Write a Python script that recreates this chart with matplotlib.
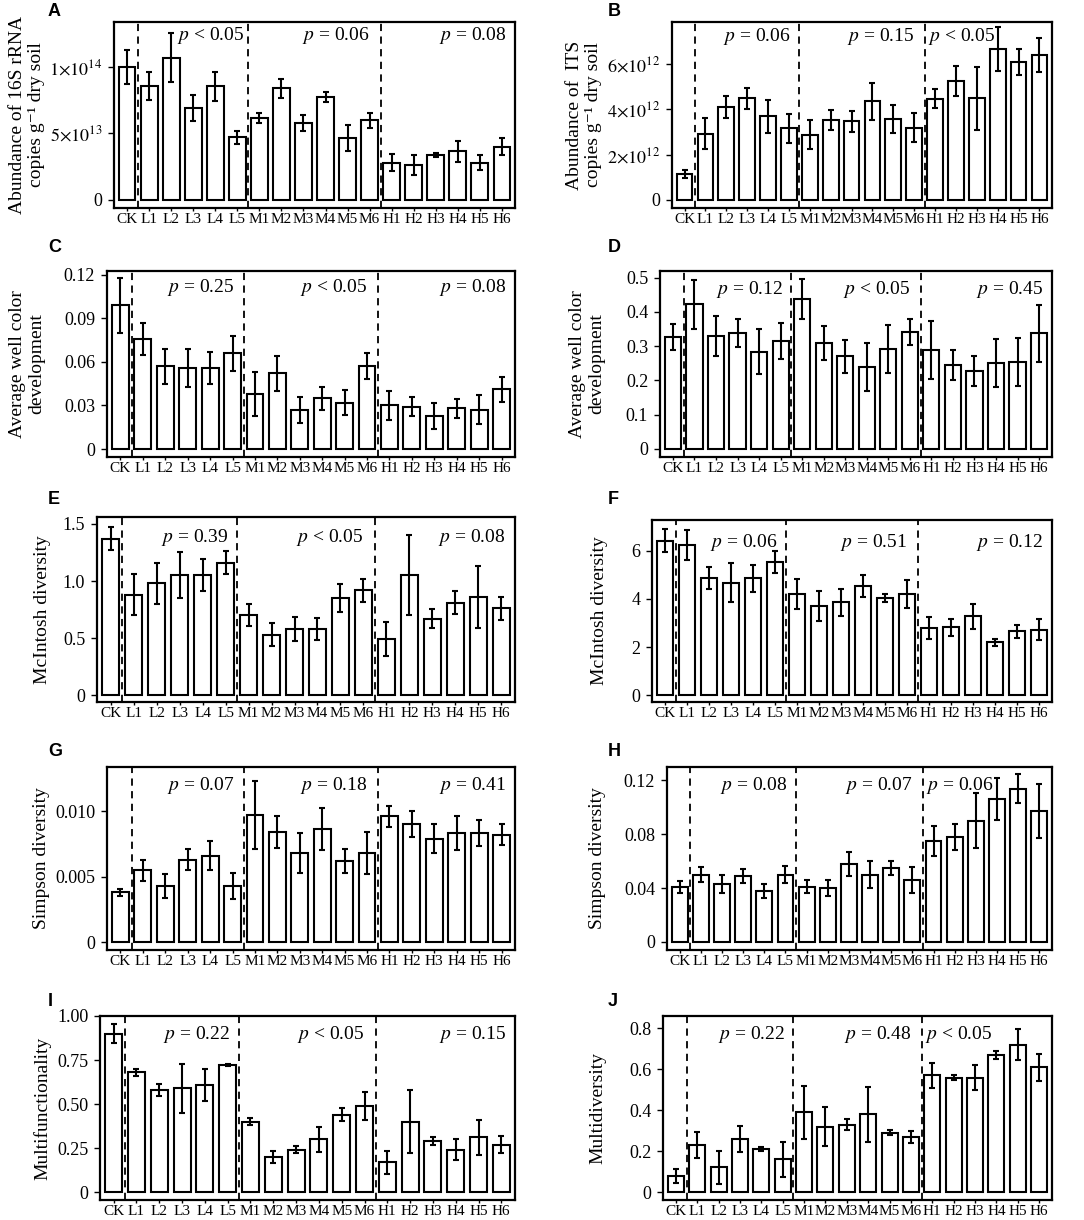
import matplotlib.pyplot as plt
import numpy as np

plt.rcParams['font.family'] = ['Liberation Serif', 'DejaVu Serif']
plt.rcParams['mathtext.fontset'] = 'stix'

groups = ["CK", "L1", "L2", "L3", "L4", "L5", "M1", "M2", "M3", "M4", "M5", "M6",
          "H1", "H2", "H3", "H4", "H5", "H6"]

# A: 16S rRNA (x1e13)
a_mean = np.array([10.0, 8.6, 10.7, 6.9, 8.55, 4.7, 6.15, 8.4, 5.8, 7.75, 4.65, 6.0,
                   2.8, 2.6, 3.4, 3.65, 2.8, 4.0]) * 1e13
a_err = np.array([1.3, 1.05, 1.85, 1.0, 1.1, 0.47, 0.38, 0.7, 0.6, 0.37, 0.97, 0.57,
                  0.67, 0.77, 0.15, 0.78, 0.54, 0.64]) * 1e13
# B: ITS (x1e12)
b_mean = np.array([1.15, 2.92, 4.1, 4.5, 3.7, 3.16, 2.89, 3.53, 3.48, 4.37, 3.56, 3.19,
                   4.47, 5.26, 4.5, 6.67, 6.1, 6.41]) * 1e12
b_err = np.array([0.17, 0.68, 0.48, 0.47, 0.74, 0.65, 0.63, 0.46, 0.47, 0.82, 0.62, 0.64,
                  0.42, 0.67, 1.4, 0.98, 0.58, 0.74]) * 1e12
# C: AWCD bacteria
c_mean = [0.099, 0.076, 0.057, 0.056, 0.056, 0.066, 0.038, 0.052, 0.027, 0.035, 0.032, 0.057,
          0.030, 0.029, 0.023, 0.028, 0.027, 0.041]
c_err = [0.019, 0.011, 0.012, 0.013, 0.011, 0.012, 0.015, 0.012, 0.009, 0.008, 0.0085, 0.009,
         0.010, 0.0065, 0.009, 0.0065, 0.010, 0.0085]
# D: AWCD fungi
d_mean = [0.325, 0.422, 0.33, 0.337, 0.283, 0.315, 0.437, 0.308, 0.27, 0.24, 0.291, 0.342,
          0.289, 0.245, 0.227, 0.25, 0.253, 0.337]
d_err = [0.038, 0.072, 0.058, 0.041, 0.066, 0.052, 0.058, 0.05, 0.048, 0.07, 0.07, 0.038,
         0.084, 0.044, 0.045, 0.07, 0.07, 0.084]
# E: McIntosh
e_mean = [1.37, 0.88, 0.98, 1.05, 1.05, 1.16, 0.70, 0.53, 0.58, 0.58, 0.85, 0.92,
          0.49, 1.05, 0.67, 0.81, 0.86, 0.76]
e_err = [0.10, 0.18, 0.18, 0.20, 0.14, 0.10, 0.095, 0.10, 0.105, 0.10, 0.12, 0.10,
         0.15, 0.35, 0.085, 0.10, 0.27, 0.10]
# F: McIntosh
f_mean = [6.42, 6.22, 4.87, 4.68, 4.85, 5.52, 4.2, 3.7, 3.86, 4.53, 4.04, 4.2,
          2.8, 2.83, 3.28, 2.2, 2.66, 2.73]
f_err = [0.47, 0.62, 0.45, 0.8, 0.55, 0.45, 0.62, 0.62, 0.55, 0.45, 0.17, 0.57,
         0.45, 0.35, 0.52, 0.15, 0.26, 0.42]
# G: Simpson
g_mean = [0.0038, 0.0055, 0.0043, 0.0063, 0.0066, 0.0043, 0.0097, 0.0084, 0.0068, 0.0086, 0.0062, 0.0068,
          0.0096, 0.0090, 0.0079, 0.0083, 0.0083, 0.0082]
g_err = [0.00025, 0.0008, 0.0009, 0.0008, 0.0011, 0.0010, 0.0026, 0.0012, 0.0015, 0.0016, 0.0009, 0.0016,
         0.0008, 0.0010, 0.0011, 0.0013, 0.0010, 0.0008]
# H: Simpson
h_mean = [0.041, 0.050, 0.043, 0.049, 0.038, 0.050, 0.041, 0.040, 0.058, 0.050, 0.055, 0.046,
          0.075, 0.078, 0.090, 0.106, 0.114, 0.097]
h_err = [0.0045, 0.0055, 0.007, 0.005, 0.005, 0.0065, 0.005, 0.006, 0.009, 0.010, 0.0055, 0.0095,
         0.0115, 0.0095, 0.0205, 0.0155, 0.0105, 0.020]
# I: Multifunctionality
i_mean = [0.90, 0.68, 0.58, 0.59, 0.61, 0.72, 0.40, 0.20, 0.24, 0.30, 0.44, 0.49,
          0.17, 0.40, 0.29, 0.24, 0.31, 0.27]
i_err = [0.055, 0.02, 0.035, 0.14, 0.09, 0.005, 0.02, 0.035, 0.02, 0.07, 0.035, 0.08,
         0.065, 0.18, 0.02, 0.06, 0.10, 0.05]
# J: Multidiversity
j_mean = [0.08, 0.23, 0.12, 0.26, 0.21, 0.16, 0.39, 0.32, 0.33, 0.38, 0.29, 0.27,
          0.57, 0.56, 0.56, 0.67, 0.72, 0.61]
j_err = [0.035, 0.065, 0.08, 0.065, 0.01, 0.085, 0.13, 0.095, 0.025, 0.135, 0.012, 0.03,
         0.06, 0.01, 0.06, 0.02, 0.075, 0.065]

a_p = ["< 0.05", "= 0.06", "= 0.08"]
b_p = ["= 0.06", "= 0.15", "< 0.05"]
c_p = ["= 0.25", "< 0.05", "= 0.08"]
d_p = ["= 0.12", "< 0.05", "= 0.45"]
e_p = ["= 0.39", "< 0.05", "= 0.08"]
f_p = ["= 0.06", "= 0.51", "= 0.12"]
g_p = ["= 0.07", "= 0.18", "= 0.41"]
h_p = ["= 0.08", "= 0.07", "= 0.06"]
i_p = ["= 0.22", "< 0.05", "= 0.15"]
j_p = ["= 0.22", "= 0.48", "< 0.05"]

ylab_16s = "Abundance of 16S rRNA\ncopies g\u207b\u00b9 dry soil"
ylab_its = "Abundance of  ITS\ncopies g\u207b\u00b9 dry soil"
ylab_awcd = "Average well color\ndevelopment"

# letter, mean, err, p labels, ylabel, ylim, yticks, yticklabels,
# box (l, t, r, b px), ylabel centre x px, p text height, third p left?
panels = [
    ("A", a_mean, a_err, a_p, ylab_16s, (-0.63e13, 13.4e13), [0, 5e13, 1e14],
     ["0", r"$5{\times}10^{13}$", r"$1{\times}10^{14}$"], (114, 22, 515, 208), 27, 0.93, False),
    ("B", b_mean, b_err, b_p, ylab_its, (-0.37e12, 7.88e12), [0, 2e12, 4e12, 6e12],
     ["0", r"$2{\times}10^{12}$", r"$4{\times}10^{12}$", r"$6{\times}10^{12}$"],
     (672, 22, 1052, 208), 584, 0.92, True),
    ("C", c_mean, c_err, c_p, ylab_awcd, (-0.0055, 0.1225), [0, 0.03, 0.06, 0.09, 0.12],
     ["0", "0.03", "0.06", "0.09", "0.12"], (107, 271, 515, 457), 27, 0.91, False),
    ("D", d_mean, d_err, d_p, ylab_awcd, (-0.024, 0.519), [0, 0.1, 0.2, 0.3, 0.4, 0.5],
     ["0", "0.1", "0.2", "0.3", "0.4", "0.5"], (660, 271, 1052, 457), 587, 0.90, False),
    ("E", e_mean, e_err, e_p, "McIntosh diversity", (-0.058, 1.56), [0, 0.5, 1.0, 1.5],
     ["0", "0.5", "1.0", "1.5"], (97, 517, 515, 702), 43, 0.89, False),
    ("F", f_mean, f_err, f_p, "McIntosh diversity", (-0.27, 7.27), [0, 2, 4, 6],
     ["0", "2", "4", "6"], (652, 520, 1052, 702), 600, 0.875, False),
    ("G", g_mean, g_err, g_p, "Simpson diversity", (-0.00058, 0.01335), [0, 0.005, 0.010],
     ["0", "0.005", "0.010"], (107, 767, 515, 950), 41, 0.90, False),
    ("H", h_mean, h_err, h_p, "Simpson diversity", (-0.006, 0.130), [0, 0.04, 0.08, 0.12],
     ["0", "0.04", "0.08", "0.12"], (667, 767, 1052, 950), 598, 0.90, True),
    ("I", i_mean, i_err, i_p, "Multifunctionality", (-0.045, 1.0), [0, 0.25, 0.5, 0.75, 1.0],
     ["0", "0.25", "0.50", "0.75", "1.00"], (100, 1016, 515, 1200), 42, 0.90, False),
    ("J", j_mean, j_err, j_p, "Multidiversity", (-0.039, 0.861), [0, 0.2, 0.4, 0.6, 0.8],
     ["0", "0.2", "0.4", "0.6", "0.8"], (663, 1016, 1052, 1200), 598, 0.90, True),
]
# panel letter centres (px)
letter_x = {"left": 48, "right": 608}
letter_y = [12, 12, 248, 248, 500, 500, 751, 751, 1001, 1001]

W, H = 1084, 1220
fig = plt.figure(figsize=(W / 100, H / 100), dpi=100)
x = np.arange(1, len(groups) + 1)

for n, (letter, mean, err, plabs, ylab, ylim, yt, ytl, box, ylx, py, third_left) in enumerate(panels):
    l, t, r, b = box
    ax = fig.add_axes([l / W, 1 - b / H, (r - l) / W, (b - t) / H])
    ax.bar(x, mean, width=0.75, color="white", edgecolor="black", linewidth=1.5, zorder=2)
    ax.errorbar(x, mean, yerr=err, fmt="none", ecolor="black", elinewidth=1.5,
                capsize=2.2, capthick=1.5, zorder=3)
    for xv in [1.5, 6.5, 12.5]:
        ax.axvline(xv, color="black", linestyle=(0, (4, 3)), linewidth=1.3, zorder=1)
    tr = ax.get_xaxis_transform()
    xs = [6.3 if letter == "A" else 6.1, 12.0, 18.2]
    for k, lab in enumerate(plabs):
        txt = "$p$ " + lab
        if k == 2 and third_left:
            ax.text(12.65, py, txt, transform=tr, ha="left", va="center", fontsize=14)
        else:
            ax.text(xs[k], py, txt, transform=tr, ha="right", va="center", fontsize=14)
    ax.set_xlim(0.4, 18.6)
    ax.set_ylim(*ylim)
    ax.set_xticks(x)
    ax.set_xticklabels(groups, fontsize=11)
    ax.set_yticks(yt)
    ax.set_yticklabels(ytl, fontsize=13)
    ax.tick_params(axis="x", length=2, pad=1.5, width=1)
    ax.tick_params(axis="y", length=4.5, pad=4, width=1)
    for s in ax.spines.values():
        s.set_linewidth(1.6)
    # y label as rotated figure text
    fig.text(ylx / W, 1 - (t + b) / 2 / H, ylab, rotation=90, ha="center", va="center",
             fontsize=14, linespacing=1.15, multialignment="center")
    lx = letter_x["left"] if n % 2 == 0 else letter_x["right"]
    fig.text(lx / W, 1 - letter_y[n] / H, letter,
             family="Liberation Sans", fontweight="bold", fontsize=13, va="center", ha="left")

fig.savefig("out.png", dpi=100)
